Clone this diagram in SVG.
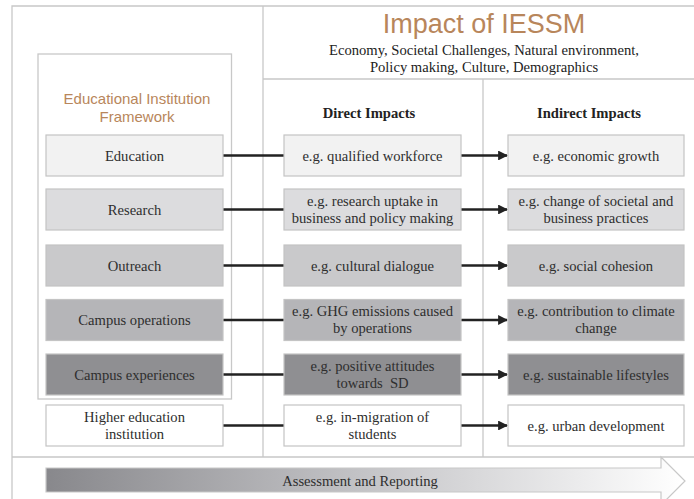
<svg xmlns="http://www.w3.org/2000/svg" width="694" height="499" viewBox="0 0 694 499">
<style>
.frame{fill:none;stroke:#c8c8c8;stroke-width:1.3}
.box{stroke:#c4c4c4;stroke-width:1.2}
.t{font-family:"Liberation Serif","Times New Roman",serif;font-size:14.6px;fill:#2e2e2e;text-anchor:middle}
.h{font-family:"Liberation Serif","Times New Roman",serif;font-size:14.6px;font-weight:bold;fill:#222;text-anchor:middle}
.s{font-family:"Liberation Sans",Arial,sans-serif;fill:#b8865b;text-anchor:middle}
.c{stroke:#222;stroke-width:2.6;fill:none}
.r1{fill:#f2f2f2}.r2{fill:#dcdcde}.r3{fill:#c9c9cb}.r4{fill:#b5b5b8}.r5{fill:#8f8f92}.r6{fill:#ffffff}
</style>
<defs>
<marker id="ah" viewBox="0 0 10 10" refX="9" refY="5" markerWidth="3.8" markerHeight="3.8" markerUnits="strokeWidth" orient="auto">
<path d="M0,0 L10,5 L0,10 z" fill="#222"/>
</marker>
<linearGradient id="gr" x1="0" y1="0" x2="1" y2="0">
<stop offset="0" stop-color="#88888c"/>
<stop offset="0.5" stop-color="#c4c4c7"/>
<stop offset="1" stop-color="#ffffff"/>
</linearGradient>
</defs>
<rect width="694" height="499" fill="#ffffff"/>
<g id="frames">
<path class="frame" d="M12,499 V6 H694 M263,6 V457 M263,79 H694 M483,79 V457 M12,457 H694"/>
<rect class="frame" x="38" y="54" width="193.5" height="345"/>
</g>
<g id="title">
<text x="484" y="33" class="s" style="font-size:27px">Impact of IESSM</text>
<text x="484" y="55" class="t" style="fill:#222">Economy, Societal Challenges, Natural environment,</text>
<text x="484" y="72" class="t" style="fill:#222">Policy making, Culture, Demographics</text>
</g>
<g id="framework-label">
<text x="137" y="104" class="s" style="font-size:15px">Educational Institution</text>
<text x="137" y="122" class="s" style="font-size:15px">Framework</text>
</g>
<g id="headers">
<text x="369" y="118" class="h">Direct Impacts</text>
<text x="589" y="118" class="h">Indirect Impacts</text>
</g>
<g id="connectors">
<path class="c" d="M223,155.5 H284 M223,209.5 H284 M223,265.5 H284 M223,320 H284 M223,374.5 H284 M223,425.5 H284"/>
<path class="c" marker-end="url(#ah)" d="M461,155.5 H507"/>
<path class="c" marker-end="url(#ah)" d="M461,209.5 H507"/>
<path class="c" marker-end="url(#ah)" d="M461,265.5 H507"/>
<path class="c" marker-end="url(#ah)" d="M461,320 H507"/>
<path class="c" marker-end="url(#ah)" d="M461,374.5 H507"/>
<path class="c" marker-end="url(#ah)" d="M461,425.5 H507"/>
</g>
<g id="education">
<rect class="box r1" x="46" y="135" width="177" height="41"/>
<text class="t" x="134.5" y="160.5">Education</text>
</g>
<g id="research">
<rect class="box r2" x="46" y="189" width="177" height="41"/>
<text class="t" x="134.5" y="214.5">Research</text>
</g>
<g id="outreach">
<rect class="box r3" x="46" y="245" width="177" height="41"/>
<text class="t" x="134.5" y="270.5">Outreach</text>
</g>
<g id="campus-operations">
<rect class="box r4" x="46" y="299.5" width="177" height="41"/>
<text class="t" x="134.5" y="325">Campus operations</text>
</g>
<g id="campus-experiences">
<rect class="box r5" x="46" y="354" width="177" height="41"/>
<text class="t" x="134.5" y="379.5">Campus experiences</text>
</g>
<g id="hei">
<rect class="box r6" x="46" y="405" width="177" height="41"/>
<text class="t" x="134.5" y="421.5">Higher education</text>
<text class="t" x="134.5" y="438.5">institution</text>
</g>
<g id="direct-1">
<rect class="box r1" x="284" y="135" width="177" height="41"/>
<text class="t" x="372.5" y="160.5">e.g. qualified workforce</text>
</g>
<g id="direct-2">
<rect class="box r2" x="284" y="189" width="177" height="41"/>
<text class="t" x="372.5" y="205.5">e.g. research uptake in</text>
<text class="t" x="372.5" y="222.5">business and policy making</text>
</g>
<g id="direct-3">
<rect class="box r3" x="284" y="245" width="177" height="41"/>
<text class="t" x="372.5" y="270.5">e.g. cultural dialogue</text>
</g>
<g id="direct-4">
<rect class="box r4" x="284" y="299.5" width="177" height="41"/>
<text class="t" x="372.5" y="316">e.g. GHG emissions caused</text>
<text class="t" x="372.5" y="333">by operations</text>
</g>
<g id="direct-5">
<rect class="box r5" x="284" y="354" width="177" height="41"/>
<text class="t" x="372.5" y="370.5">e.g. positive attitudes</text>
<text class="t" x="372.5" y="387.5">towards&#160; SD</text>
</g>
<g id="direct-6">
<rect class="box r6" x="284" y="405" width="177" height="41"/>
<text class="t" x="372.5" y="421.5">e.g. in-migration of</text>
<text class="t" x="372.5" y="438.5">students</text>
</g>
<g id="indirect-1">
<rect class="box r1" x="508" y="135" width="176" height="41"/>
<text class="t" x="596" y="160.5">e.g. economic growth</text>
</g>
<g id="indirect-2">
<rect class="box r2" x="508" y="189" width="176" height="41"/>
<text class="t" x="596" y="205.5">e.g. change of societal and</text>
<text class="t" x="596" y="222.5">business practices</text>
</g>
<g id="indirect-3">
<rect class="box r3" x="508" y="245" width="176" height="41"/>
<text class="t" x="596" y="270.5">e.g. social cohesion</text>
</g>
<g id="indirect-4">
<rect class="box r4" x="508" y="299.5" width="176" height="41"/>
<text class="t" x="596" y="316">e.g. contribution to climate</text>
<text class="t" x="596" y="333">change</text>
</g>
<g id="indirect-5">
<rect class="box r5" x="508" y="354" width="176" height="41"/>
<text class="t" x="596" y="379.5">e.g. sustainable lifestyles</text>
</g>
<g id="indirect-6">
<rect class="box r6" x="508" y="405" width="176" height="41"/>
<text class="t" x="596" y="430.5">e.g. urban development</text>
</g>
<g id="assessment">
<path d="M46,468 H661 V457 L685,481 L661,505 V492 H46 Z" fill="url(#gr)" stroke="#c8c8c8" stroke-width="1.2"/>
<text class="t" x="360" y="486">Assessment and Reporting</text>
</g>
</svg>
